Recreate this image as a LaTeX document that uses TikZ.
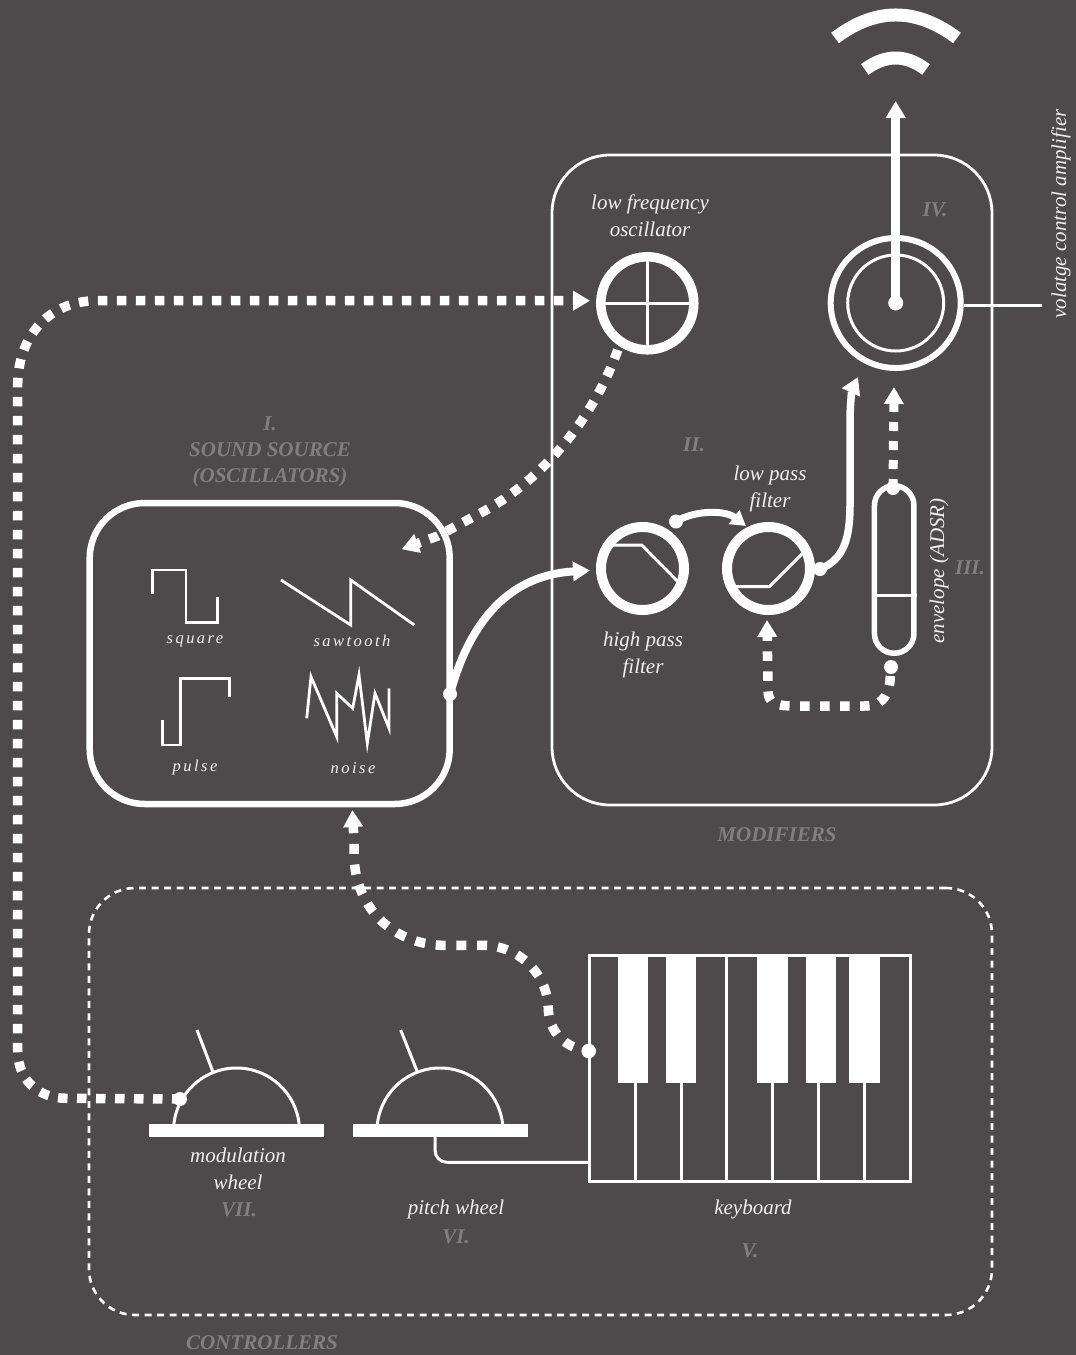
\documentclass[tikz,border=0pt]{standalone}
\usepackage{fontspec}
\setmainfont{Liberation Serif}
\newfontfamily\spacedfont[LetterSpace=15]{Liberation Serif}
\usetikzlibrary{arrows.meta,shapes.misc}
\definecolor{bgc}{HTML}{4E4A4B}
\definecolor{wht}{HTML}{FFFFFF}
\definecolor{txtc}{HTML}{F0EFEF}
\definecolor{numc}{HTML}{807E7F}
\tikzset{
  lab/.style={text=txtc,font=\fontsize{21}{27}\selectfont\itshape,align=center,inner sep=0pt},
  wavelab/.style={text=txtc,font=\fontsize{16.5}{20}\selectfont\spacedfont\itshape,inner sep=0pt},
  num/.style={text=numc,font=\fontsize{21}{26}\selectfont\bfseries\itshape,align=center,inner sep=0pt},
  portdot/.style={circle,fill=wht,inner sep=0pt,minimum size=14pt,draw=none},
  ring/.style={circle,draw=wht,inner sep=0pt,minimum size=#1},
  dotflow/.style={draw=wht,line width=9.5pt,dash pattern=on 9.5pt off 9.5pt,-{Triangle[length=17pt,width=19pt]}},
  solidflow/.style={draw=wht,line width=8pt,-{Triangle[length=17pt,width=19pt]}},
  thinw/.style={draw=wht,line width=3pt},
  wave/.style={draw=wht,line width=2.8pt,line join=miter,miter limit=8},
}
\begin{document}
\begin{tikzpicture}[x=1pt,y=-1pt]
\useasboundingbox (0,0) rectangle (1076,1355);
\fill[bgc] (0,0) rectangle (1076,1355);

% group boxes
\node[draw=wht,line width=2.8pt,rounded corners=58pt,minimum width=440pt,minimum height=650pt,inner sep=0pt] (modbox) at (772,480) {};
\node[draw=wht,line width=2.6pt,dash pattern=on 7pt off 5.5pt,rounded corners=46pt,minimum width=903pt,minimum height=427pt,inner sep=0pt] (ctrlbox) at (540.5,1101.5) {};
\node[draw=wht,line width=6.5pt,rounded corners=55pt,minimum width=360pt,minimum height=301pt,inner sep=0pt] (source) at (269.7,653.5) {};

% modules
\node[ring=93pt,line width=9.5pt] (lfo) at (647.3,303.3) {};
\draw[thinw,shorten <=5pt,shorten >=5pt] (lfo.west) -- (lfo.east);
\draw[thinw,shorten <=5pt,shorten >=5pt] (lfo.north) -- (lfo.south);

\node[ring=83pt,line width=10pt] (hp) at (642.5,568.5) {};
\draw[thinw,line join=round] (612.7,545) -- (641.7,545) -- (678,581.7);
\node[ring=83pt,line width=10pt] (lp) at (768.5,568.5) {};
\draw[thinw,line join=round] (735,586.7) -- (769.3,586.7) -- (802.7,553.3);

\node[draw=wht,line width=5.5pt,rounded corners=19.7pt,minimum width=39.5pt,minimum height=167.5pt,inner sep=0pt] (env) at (894.2,569.5) {};
\draw[thinw] (env.west |- 0,595.7) -- (env.east |- 0,595.7);

\node[ring=130pt,line width=6pt] (vca) at (895.7,303) {};
\node[ring=96pt,line width=3pt] (vcainner) at (895.7,303) {};
\node[portdot,minimum size=15pt] (vcadot) at (895.7,303) {};

% ports
\node[portdot] (srcout) at (450,694) {};
\node[portdot,minimum size=9pt] (lfoport) at (620.7,341.4) {};
\node[portdot] (hpout) at (676,521.5) {};
\node[portdot] (lpout) at (820,569) {};
\node[portdot] (envtop) at (893,488) {};
\node[portdot] (envbot) at (891,667) {};
\node[portdot,minimum size=14.6pt] (kbdport) at (588.7,1051) {};
\node[portdot] (modport) at (180,1099) {};

\coordinate (lfoin) at (590,300.7);
\coordinate (srcinA) at (401.7,549.3);
\coordinate (srcinB) at (352.3,810);
\coordinate (hpin) at (590,570.5);
\coordinate (lpin) at (746,526);
\coordinate (lpinB) at (767,620);
\coordinate (vcain) at (858,377);
\coordinate (vcainB) at (894,387);
\coordinate (vcaout) at (895.7,101);

% waves
\draw[wave] (152.7,594) -- (152.7,570) -- (186,570) -- (186,622.7) -- (217.7,622.7) -- (217.7,596.7);
\draw[wave] (281,580) -- (350.7,625) -- (350.7,580) -- (414.3,625);
\draw[wave] (162.3,720) -- (162.3,745) -- (180.3,745) -- (180.3,678.7) -- (229.7,678.7) -- (229.7,696.7);
\draw[wave] (306.7,718.3) -- (311,676.7) -- (336.7,736.7) -- (336.7,693.3) -- (352.7,708.3) -- (359,675) -- (367.3,743.3) -- (375,693.3) -- (389,728.3) -- (389,688.3);

% controllers
\draw[thinw] (173.5,1131) arc[start angle=180,end angle=360,radius=63];
\draw[thinw] (377,1131) arc[start angle=180,end angle=360,radius=63];
\node[fill=wht,minimum width=175pt,minimum height=13pt,inner sep=0pt] (modbar) at (236.5,1130.5) {};
\node[fill=wht,minimum width=175pt,minimum height=13pt,inner sep=0pt] (pitchbar) at (440,1130.5) {};
\draw[thinw] (197,1030) -- (213,1072);
\draw[thinw] (400.7,1030) -- (417,1071);

\node[draw=wht,line width=3pt,minimum width=321pt,minimum height=226pt,inner sep=0pt] (kbd) at (750,1068) {};
\foreach \xx in {635.3,681,726.7,772.7,818.3,864} \draw[thinw] (\xx,955) -- (\xx,1181);
\foreach \xx in {618,665.7,757.3,805.7,849.3} \fill[wht] (\xx,955) rectangle (\xx+30.4,1082.7);

\coordinate (pitchout) at (435,1137);
\draw[thinw,rounded corners=12pt] (pitchout) -- (435,1162.3) -- (kbd.west |- 0,1162.3);

% flows
\draw[solidflow] (srcout.center) .. controls (470,620) and (510,575) .. (hpin);
\draw[draw=wht,line width=7pt,-{Triangle[length=15pt,width=17pt]}] (hpout.center) .. controls (695,510) and (725,510) .. (lpin);
\draw[solidflow,line width=7.5pt] (lpout.center) .. controls (843,560) and (850,540) .. (850,505) -- (850,420) .. controls (850,405) and (852,390) .. (vcain);
\draw[solidflow,line width=8.5pt] (vcadot.center) -- (vcaout);

\draw[dotflow,dash phase=1.5pt] (modport.center) -- (66,1098.3) .. controls (38,1098) and (17.7,1080) .. (17.7,1050) -- (17.7,385) .. controls (18,335) and (50,300.7) .. (97,300.7) -- (lfoin);
\draw[dotflow,dash phase=10pt] (lfoport.center) .. controls (600,405) and (555,470) .. (488,509) -- (437.7,536) -- (srcinA);
\draw[dotflow,dash pattern=on 10pt off 10.7pt,dash phase=4.7pt] (kbdport.center) .. controls (565,1048) and (549,1032) .. (548.3,1009) .. controls (548,975) and (520,946) .. (484,945.3) -- (442,945.3) .. controls (395,944) and (356,910) .. (354,857) -- (354,840) -- (srcinB);
\draw[dotflow,line width=9pt,dash pattern=on 9pt off 10pt] (envtop.center) -- (vcainB);
\draw[dotflow,dash pattern=on 9.5pt off 10.5pt,dash phase=11pt] (envbot.center) -- (890,681) .. controls (888,698) and (880,706) .. (864,706) -- (795,706) .. controls (775,706) and (768,703) .. (768,690) -- (lpinB);

% speaker arcs
\draw[draw=wht,line width=13pt] (835,38) .. controls (875.5,7.3) and (916,7.3) .. (957,38);
\draw[draw=wht,line width=13pt] (864.8,69.5) .. controls (885.4,54.2) and (906,54.2) .. (926,69.5);

% amp output
\coordinate (ampend) at (1042,305);
\draw[thinw] (vca.east |- ampend) -- (ampend);

% labels
\node[lab] (tlfo) at (650,216) {low frequency\\oscillator};
\node[lab] (thp) at (643,654.5) {high pass\\filter};
\node[lab] (tlp) at (770,489) {low pass\\filter};
\node[lab,rotate=90] (tenv) at (939,571) {envelope (ADSR)};
\node[lab,rotate=90] (tvca) at (1061,214) {volatge control amplifier};
\node[lab] (tmodw) at (238,1169) {modulation\\wheel};
\node[lab] (tpw) at (456,1209) {pitch wheel};
\node[lab] (tkb) at (753,1209) {keyboard};

\node[wavelab] (tsq) at (195,641) {square};
\node[wavelab] (tsaw) at (352,641) {sawtooth};
\node[wavelab] (tpul) at (195,768) {pulse};
\node[wavelab] (tnoi) at (353,768) {noise};

\node[num] (nI) at (270,452) {I.\\SOUND SOURCE\\(OSCILLATORS)};
\node[num] (nII) at (694,445) {II.};
\node[num] (nIII) at (970,568) {III.};
\node[num] (nIV) at (935,210) {IV.};
\node[num] (nV) at (750,1251) {V.};
\node[num] (nVI) at (456,1237) {VI.};
\node[num] (nVII) at (239,1210) {VII.};
\node[num] (nmod) at (777,835) {MODIFIERS};
\node[num] (nctl) at (262,1343) {CONTROLLERS};
\end{tikzpicture}
\end{document}
